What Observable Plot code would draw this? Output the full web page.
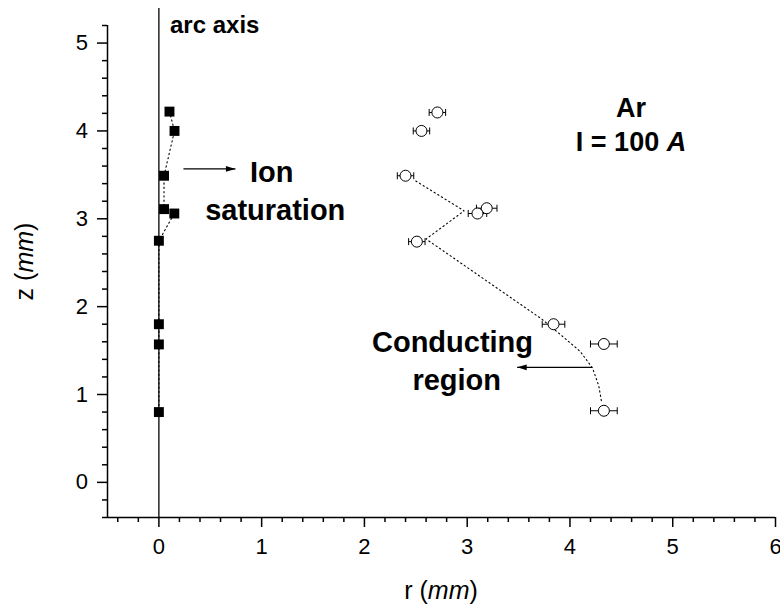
<!DOCTYPE html>
<html><head><meta charset="utf-8">
<script src="https://cdn.jsdelivr.net/npm/d3@7"></script>
<script src="https://cdn.jsdelivr.net/npm/@observablehq/plot@0.6"></script>
<style>body{margin:0;background:#fff}</style>
</head><body><div id="chart"></div>
<script>
// Ion saturation (filled squares)
const ionR = [0.103, 0.152, 0.05, 0.05, 0.15, 0.0, 0.0, 0.0, 0.0];
const ionZ = [4.22, 4.00, 3.49, 3.11, 3.06, 2.75, 1.80, 1.57, 0.80];
// Conducting region (open circles with horizontal error bars)
const condR = [2.71, 2.555, 2.40, 3.19, 3.10, 2.51, 3.84, 4.33, 4.33];
const condZ = [4.21, 4.00, 3.49, 3.12, 3.06, 2.74, 1.80, 1.575, 0.815];
const condErr = [0.08, 0.08, 0.08, 0.10, 0.09, 0.08, 0.11, 0.13, 0.13];
// dotted guide through the conducting region boundary
const fitR = [2.50, 2.97, 2.60, 3.73, 3.92, 4.10, 4.22, 4.28, 4.31];
const fitZ = [3.43, 3.09, 2.77, 1.855, 1.67, 1.49, 1.30, 1.10, 0.90];
// annotation arrows
const arrowX1 = [0.239, 4.216];
const arrowX2 = [0.745, 3.486];
const arrowZ = [3.568, 1.309];
// ticks
const xMajor = [0, 1, 2, 3, 4, 5, 6];
const yMajor = [0, 1, 2, 3, 4, 5];
const xMinor = d3.range(-2, 31).filter(i => i % 5 !== 0).map(i => i / 5);
const yMinor = d3.range(-2, 27).filter(i => i % 5 !== 0).map(i => i / 5);
// texts
const xTitle = ["r (", "mm", ")"];
const yTitle = ["z (", "mm", ")"];
const arcLabel = "arc axis";
const ionLabel = ["Ion", "saturation"];
const condLabel = ["Conducting", "region"];
const gasLabel = "Ar";
const currentLabel = ["I = 100\u00a0", "A"];

const FONT = "'Liberation Sans', Arial, Helvetica, sans-serif";

const ion = ionR.map((r, i) => ({r, z: ionZ[i]}));
const cond = condR.map((r, i) => ({r, z: condZ[i], e: condErr[i]}));
const fit = fitR.map((r, i) => ({r, z: fitZ[i]}));
const caps = cond.flatMap(d => [{x: d.r - d.e, z: d.z}, {x: d.r + d.e, z: d.z}]);
const arrows = arrowX1.map((x1, i) => ({x1, x2: arrowX2[i], z: arrowZ[i]}));

const capSymbol = {draw(ctx, size) { const s = Math.sqrt(size / Math.PI); ctx.moveTo(0, -s); ctx.lineTo(0, s); }};
const headSymbol = {draw(ctx, size) { const s = Math.sqrt(size / Math.PI); ctx.moveTo(0, 0); ctx.lineTo(-3.4 * s, -s); ctx.lineTo(-3.4 * s, s); ctx.closePath(); }};

const plot = Plot.plot({
  width: 780, height: 605,
  marginLeft: 107, marginRight: 5, marginTop: 25, marginBottom: 88,
  x: {domain: [-0.5, 6], label: null},
  y: {domain: [-0.4, 5.2], label: null},
  style: {fontFamily: FONT, background: "white", overflow: "visible", color: "black"},
  marks: [
    Plot.axisX({ticks: xMinor, tickSize: 5, tickFormat: () => "", strokeWidth: 1.5, label: null}),
    Plot.axisX({ticks: xMajor, tickSize: 10, tickPadding: 11, fontSize: 22, strokeWidth: 1.5, label: null, tickFormat: d => String(d)}),
    Plot.axisY({ticks: yMinor, tickSize: 5, tickFormat: () => "", strokeWidth: 1.5, label: null}),
    Plot.axisY({ticks: yMajor, tickSize: 10, tickPadding: 9.5, fontSize: 22, strokeWidth: 1.5, label: null, tickFormat: d => String(d)}),
    Plot.ruleX([-0.5], {y1: -0.4, y2: 5.2, stroke: "black", strokeWidth: 1.5}),
    Plot.ruleY([-0.4], {x1: -0.5, x2: 6, stroke: "black", strokeWidth: 1.5}),
    // arc axis
    Plot.ruleX([0], {y1: -0.4, y2: 5.394, stroke: "black", strokeWidth: 1.3}),
    // ion saturation
    Plot.line(ion, {x: "r", y: "z", stroke: "black", strokeWidth: 1.1, strokeDasharray: "1.3,3"}),
    Plot.dot(ion, {x: "r", y: "z", symbol: "square", r: 5.6, fill: "black", stroke: "none"}),
    // conducting region
    Plot.line(fit, {x: "r", y: "z", stroke: "black", strokeWidth: 1.1, strokeDasharray: "1.3,3"}),
    Plot.link(cond, {x1: d => d.r - d.e, x2: d => d.r + d.e, y1: "z", y2: "z", stroke: "black", strokeWidth: 1}),
    Plot.dot(caps, {x: "x", y: "z", symbol: capSymbol, r: 3.5, stroke: "black", fill: "none", strokeWidth: 1}),
    Plot.dot(cond, {x: "r", y: "z", r: 5.5, fill: "white", stroke: "black", strokeWidth: 1}),
    // arrows
    Plot.link(arrows, {x1: "x1", x2: "x2", y1: "z", y2: "z", stroke: "black", strokeWidth: 1.4}),
    Plot.dot(arrows, {x: "x2", y: "z", symbol: headSymbol, r: 2.8, fill: "black", stroke: "none", rotate: d => d.x2 > d.x1 ? 0 : 180})
  ]
});

document.getElementById("chart").appendChild(plot);

const svg = d3.select(plot);
// enforce tick label size and tick stroke width
svg.selectAll('g[aria-label="x-axis tick label"], g[aria-label="y-axis tick label"]')
  .attr("font-size", 22).style("font-size", "22px");
svg.selectAll('g[aria-label="x-axis tick"], g[aria-label="y-axis tick"]')
  .attr("stroke-width", 1.5).selectAll("path").attr("stroke-width", 1.5);

const sx = plot.scale("x"), sy = plot.scale("y");
function addText(px, py, parts, size, weight, anchor, rotate) {
  const t = svg.append("text")
    .attr("text-anchor", anchor)
    .attr("font-size", size)
    .attr("font-weight", weight)
    .attr("font-family", FONT)
    .attr("fill", "black");
  if (rotate) t.attr("transform", `translate(${px},${py}) rotate(${rotate})`);
  else t.attr("x", px).attr("y", py);
  parts.forEach((s, i) => t.append("tspan").attr("font-style", (parts.length > 1 && i === 1) ? "italic" : "normal").text(s));
}
// axis titles
const xMid = (sx.range[0] + sx.range[1]) / 2;
addText(xMid, 599, xTitle, 25, "normal", "middle");
addText(33, 261.5, yTitle, 25, "normal", "middle", -90);
// annotations in data coordinates
addText(sx.apply(0.113), sy.apply(5.109), [arcLabel], 24, "bold", "start");
addText(sx.apply(1.102), sy.apply(3.416), [ionLabel[0]], 29, "bold", "middle");
addText(sx.apply(1.137), sy.apply(2.979), [ionLabel[1]], 29, "bold", "middle");
addText(sx.apply(4.599), sy.apply(4.156), [gasLabel], 27, "bold", "middle");
addText(sx.apply(4.599), sy.apply(3.769), currentLabel, 27, "bold", "middle");
addText(sx.apply(2.862), sy.apply(1.482), [condLabel[0]], 29, "bold", "middle");
addText(sx.apply(2.903), sy.apply(1.043), [condLabel[1]], 29, "bold", "middle");
</script>
</body></html>
